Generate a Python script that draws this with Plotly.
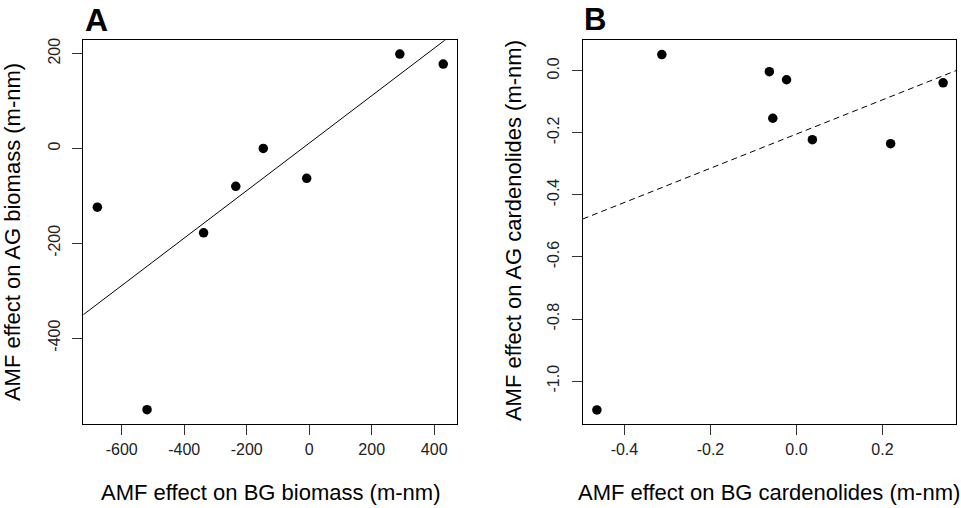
import plotly.graph_objects as go
from plotly.subplots import make_subplots
import numpy as np

# Panel A: biomass
bg_biomass = [-678, -338, -235, -147, -8, 290, 429, -519]
ag_biomass = [-124, -178, -80, 0, -63, 199, 178, -551]
fit_a = (11.1, 0.5005)  # intercept, slope

# Panel B: cardenolides
bg_card = [-0.313, -0.063, -0.023, -0.055, 0.037, 0.219, 0.341, -0.464]
ag_card = [0.052, -0.003, -0.029, -0.153, -0.222, -0.235, -0.039, -1.093]
fit_b = (-0.204, 0.551)

xticks_a = [-600, -400, -200, 0, 200, 400]
yticks_a = [-400, -200, 0, 200]
xticks_b = [-0.4, -0.2, 0.0, 0.2]
yticks_b = [-1.0, -0.8, -0.6, -0.4, -0.2, 0.0]

xr_a = [-723, 474]
yr_a = [-580.5, 228.4]
xr_b = [-0.497, 0.371]
yr_b = [-1.137, 0.0986]

W, H = 961, 508
font = "Liberation Sans, Arial, sans-serif"

def txt(vals, fmt):
    # R style labels with a plain hyphen
    return [fmt.format(v) for v in vals]

fig = make_subplots(rows=1, cols=2)

fig.add_trace(go.Scatter(x=bg_biomass, y=ag_biomass, mode="markers",
                         marker=dict(color="black", size=9.5), showlegend=False), 1, 1)
fx = np.array(xr_a)
fig.add_trace(go.Scatter(x=fx, y=fit_a[0] + fit_a[1] * fx, mode="lines",
                         line=dict(color="black", width=1), showlegend=False), 1, 1)

fig.add_trace(go.Scatter(x=bg_card, y=ag_card, mode="markers",
                         marker=dict(color="black", size=9.5), showlegend=False), 1, 2)
fx = np.array(xr_b)
fig.add_trace(go.Scatter(x=fx, y=fit_b[0] + fit_b[1] * fx, mode="lines",
                         line=dict(color="black", width=1, dash="6px,4px"), showlegend=False), 1, 2)

ax = dict(showline=True, mirror=True, linecolor="black", linewidth=1,
          showgrid=False, zeroline=False, ticks="outside", ticklen=10,
          tickcolor="#333", tickfont=dict(size=16, color="#222", family=font))

ydom = [1 - 423.3 / H, 1 - 38.3 / H]
fig.update_layout(
    xaxis=dict(ax, domain=[83.3 / W, 457.3 / W], range=xr_a, tickvals=xticks_a,
               ticktext=txt(xticks_a, "{:d}"), ticklabelstandoff=1),
    yaxis=dict(ax, domain=ydom, range=yr_a, tickvals=yticks_a, tickangle=-90,
               ticktext=txt(yticks_a, "{:d}"), ticklabelstandoff=6),
    xaxis2=dict(ax, domain=[582.7 / W, 956 / W], range=xr_b, tickvals=xticks_b,
                ticktext=txt(xticks_b, "{:.1f}"), ticklabelstandoff=1),
    yaxis2=dict(ax, domain=ydom, range=yr_b, tickvals=yticks_b, tickangle=-90,
                ticktext=txt(yticks_b, "{:.1f}"), ticklabelstandoff=6),
)

ann = []
def label(text, x, y, size=22, angle=0, bold=False):
    ann.append(dict(text=f"<b>{text}</b>" if bold else text, x=x / W, y=1 - y / H,
                    xref="paper", yref="paper", showarrow=False, textangle=angle,
                    font=dict(size=size, color="black", family=font),
                    xanchor="center", yanchor="middle"))

label("AMF effect on BG biomass (m-nm)", 270, 492)
label("AMF effect on AG biomass (m-nm)", 12, 231, angle=-90)
label("AMF effect on BG cardenolides (m-nm)", 769, 492)
label("AMF effect on AG cardenolides (m-nm)", 513, 230, angle=-90)
label("A", 96, 18, size=32, bold=True)
label("B", 595, 18, size=31, bold=True)

fig.update_layout(annotations=ann, width=W, height=H, margin=dict(l=0, r=0, t=0, b=0),
                  plot_bgcolor="white", paper_bgcolor="white",
                  font=dict(family=font))

fig.write_html("out.html", config={"displayModeBar": False},
               post_script="document.body.style.margin='0';")
